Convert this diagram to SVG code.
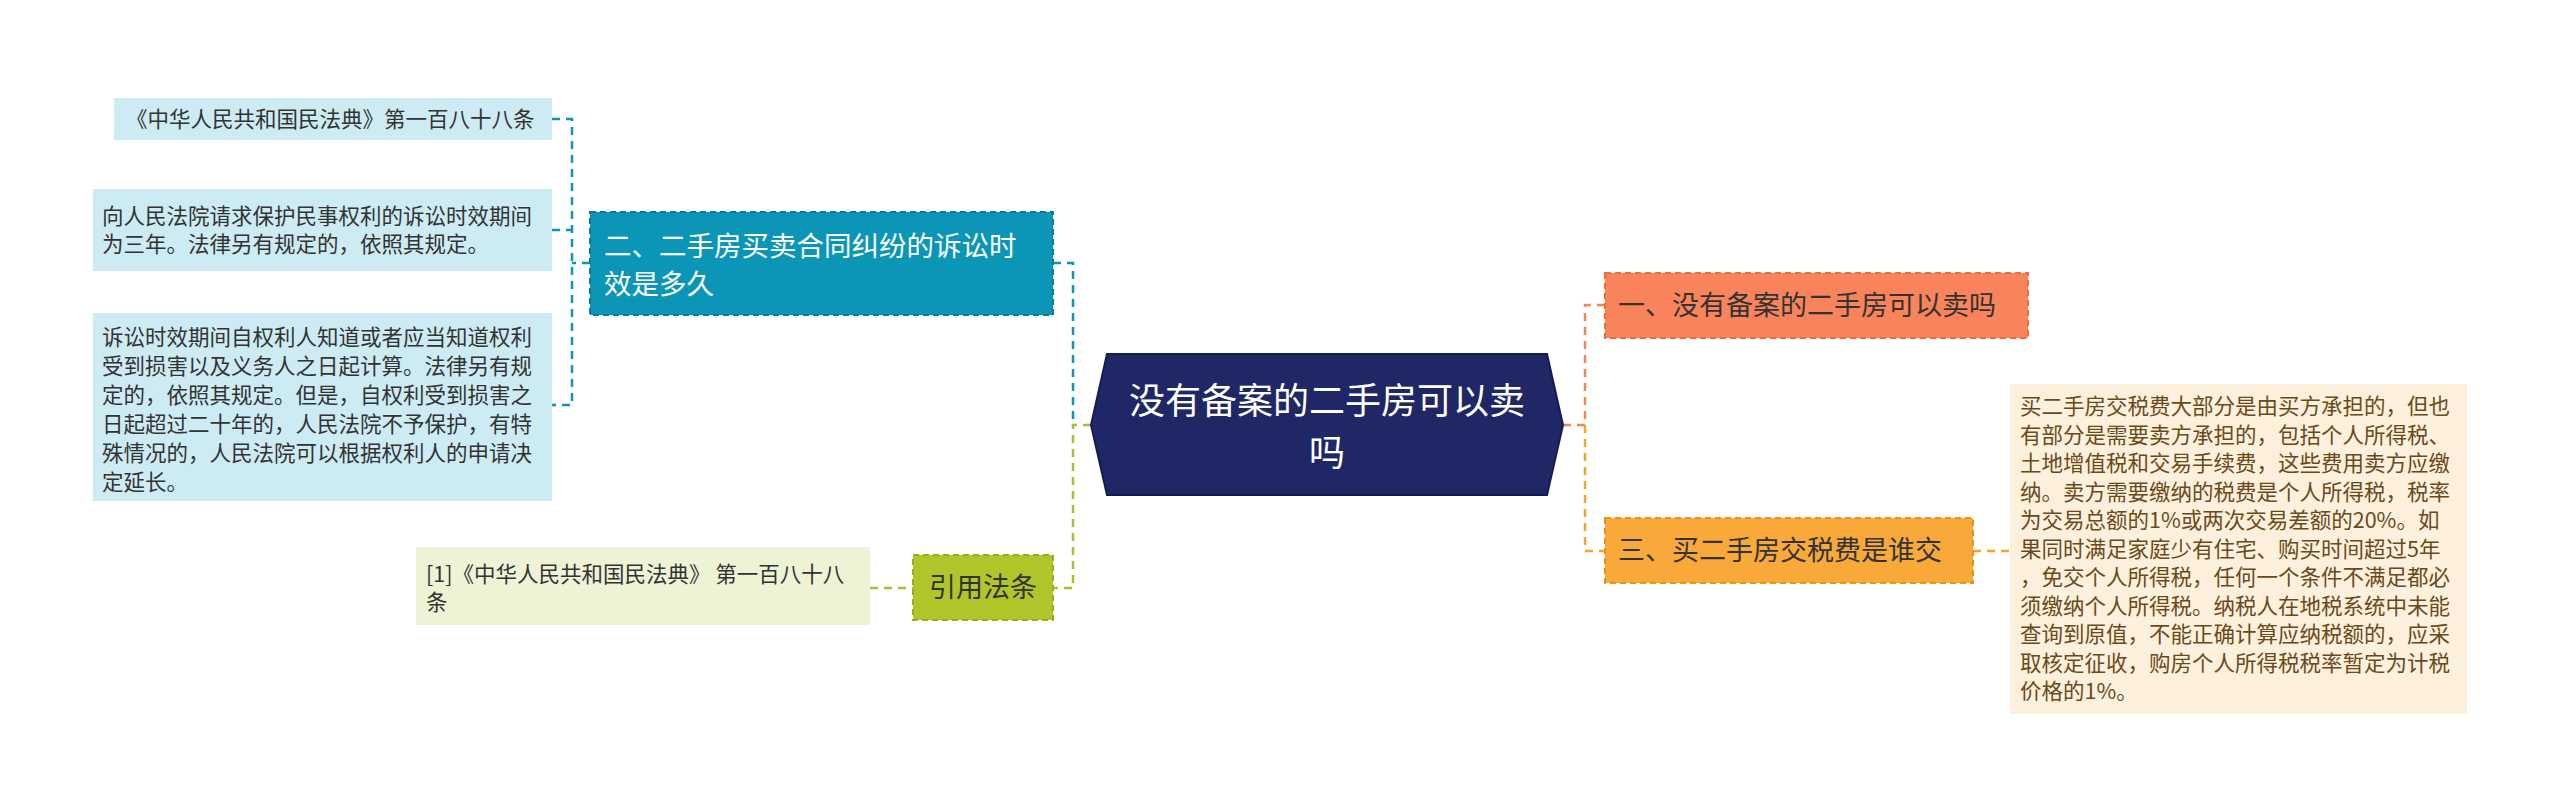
<svg xmlns="http://www.w3.org/2000/svg" width="2560" height="806" viewBox="0 0 2560 806">
<style>
text{font-family:"Noto Sans CJK SC","Liberation Sans",sans-serif}
.c{fill:none;stroke-width:2.5;stroke-dasharray:8 6}
.leaf{font-size:21.5px;fill:#333}
.b{stroke-width:2;stroke-dasharray:6 4}
</style>
<rect width="2560" height="806" fill="#fff"/>
<g id="connectors">
<path class="c" stroke="#0B96B8" d="M1053 263H1073V425"/>
<path class="c" stroke="#A9C02E" d="M1091 425H1073V588H1053"/>
<path class="c" stroke="#0B96B8" d="M590 263H572M552 119H572V405H552M552 230H572"/>
<path class="c" stroke="#A9C02E" d="M870 588H913"/>
<path class="c" stroke="#F08556" d="M1563 425H1585V305H1605"/>
<path class="c" stroke="#F5A623" d="M1585 425V551H1605M1973 551H2010"/>
</g>
<g id="center">
<polygon points="1091,425 1107,354 1547,354 1563,425 1547,495 1107,495" fill="#1F2766" stroke="#151c50" stroke-width="2"/>
<text x="1327" y="414" font-size="36" fill="#fff" text-anchor="middle">没有备案的二手房可以卖</text>
<text x="1327" y="466" font-size="36" fill="#fff" text-anchor="middle">吗</text>
</g>
<g id="n1">
<rect x="1605" y="273" width="423" height="65" fill="#F9845B" class="b" stroke="#f06a3c"/>
<text x="1618" y="315" font-size="27" fill="#333">一、没有备案的二手房可以卖吗</text>
</g>
<g id="n3">
<rect x="1605" y="518" width="368" height="65" fill="#F9A93A" class="b" stroke="#e8921a"/>
<text x="1618" y="560" font-size="27" fill="#333">三、买二手房交税费是谁交</text>
</g>
<g id="n3d">
<rect x="2010" y="384" width="457" height="330" fill="#FDF0DC"/>
<text class="leaf" style="fill:#6B4A1A">
<tspan x="2020" y="414">买二手房交税费大部分是由买方承担的，但也</tspan>
<tspan x="2020" y="442.5">有部分是需要卖方承担的，包括个人所得税、</tspan>
<tspan x="2020" y="471">土地增值税和交易手续费，这些费用卖方应缴</tspan>
<tspan x="2020" y="499.5">纳。卖方需要缴纳的税费是个人所得税，税率</tspan>
<tspan x="2020" y="528">为交易总额的1%或两次交易差额的20%。如</tspan>
<tspan x="2020" y="556.5">果同时满足家庭少有住宅、购买时间超过5年</tspan>
<tspan x="2020" y="585">，免交个人所得税，任何一个条件不满足都必</tspan>
<tspan x="2020" y="613.5">须缴纳个人所得税。纳税人在地税系统中未能</tspan>
<tspan x="2020" y="642">查询到原值，不能正确计算应纳税额的，应采</tspan>
<tspan x="2020" y="670.5">取核定征收，购房个人所得税税率暂定为计税</tspan>
<tspan x="2020" y="699">价格的1%。</tspan>
</text>
</g>
<g id="n2">
<rect x="590" y="212" width="463" height="103" fill="#0B96B8" class="b" stroke="#087d9a"/>
<text x="604" y="256" font-size="27.5" fill="#fff">二、二手房买卖合同纠纷的诉讼时</text>
<text x="604" y="294" font-size="27.5" fill="#fff">效是多久</text>
</g>
<g id="l1">
<rect x="114" y="98" width="438" height="42" fill="#CDEBF3"/>
<text class="leaf" x="126" y="127">《中华人民共和国民法典》第一百八十八条</text>
</g>
<g id="l2">
<rect x="93" y="189" width="459" height="82" fill="#CDEBF3"/>
<text class="leaf" x="102" y="224">向人民法院请求保护民事权利的诉讼时效期间</text>
<text class="leaf" x="102" y="252">为三年。法律另有规定的，依照其规定。</text>
</g>
<g id="l3">
<rect x="93" y="313" width="459" height="188" fill="#CDEBF3"/>
<text class="leaf">
<tspan x="102" y="345">诉讼时效期间自权利人知道或者应当知道权利</tspan>
<tspan x="102" y="374">受到损害以及义务人之日起计算。法律另有规</tspan>
<tspan x="102" y="403">定的，依照其规定。但是，自权利受到损害之</tspan>
<tspan x="102" y="432">日起超过二十年的，人民法院不予保护，有特</tspan>
<tspan x="102" y="461">殊情况的，人民法院可以根据权利人的申请决</tspan>
<tspan x="102" y="490">定延长。</tspan>
</text>
</g>
<g id="cite">
<rect x="913" y="555" width="140" height="65" fill="#AFC52A" class="b" stroke="#97ad1c"/>
<text x="983" y="597" font-size="27" fill="#333" text-anchor="middle">引用法条</text>
</g>
<g id="cite1">
<rect x="416" y="547" width="454" height="78" fill="#EEF3D6"/>
<text class="leaf" x="426" y="582">[1]《中华人民共和国民法典》 第一百八十八</text>
<text class="leaf" x="426" y="610">条</text>
</g>
</svg>
